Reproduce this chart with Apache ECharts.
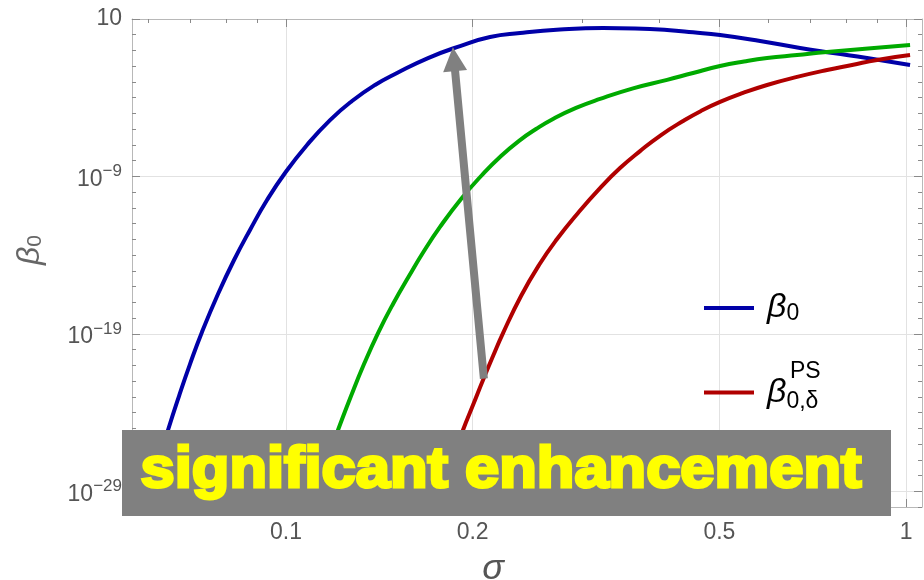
<!DOCTYPE html>
<html><head><meta charset="utf-8">
<script src="https://cdn.jsdelivr.net/npm/echarts@6/dist/echarts.min.js"></script>
<style>html,body{margin:0;padding:0;background:#fff}#c{width:924px;height:580px}</style>
</head><body><div id="c"></div>
<script>
// ---- data: sigma values and log10(beta) ----
const blueSigma = [0.05944,0.06171,0.06452,0.06721,0.07001,0.07320,0.07768,0.08245,0.08748,0.09319,0.09963,0.10811,0.11776,0.12777,0.13917,0.15101,0.16944,0.19086,0.21334,0.23847,0.27664,0.32455,0.36552,0.41170,0.45336,0.50119,0.58146,0.67459,0.76253,0.86515,1.0150];
const blueLogBeta = [-30,-27.65,-25.11,-22.95,-20.92,-18.88,-16.47,-14.31,-12.40,-10.50,-8.78,-7.00,-5.42,-4.21,-3.19,-2.43,-1.48,-0.72,-0.14,0.11,0.33,0.43,0.40,0.30,0.155,-0.02,-0.40,-0.84,-1.16,-1.48,-1.92];
const greenSigma = [0.10973,0.11473,0.12130,0.12730,0.13360,0.14073,0.14879,0.15790,0.16694,0.17716,0.19155,0.20708,0.22222,0.23847,0.25307,0.26955,0.29358,0.32096,0.36284,0.41170,0.45336,0.50119,0.54790,0.59677,0.66711,0.74577,0.86838,1.0150];
const greenLogBeta = [-30,-27.65,-25.11,-22.95,-20.92,-18.95,-17.10,-15.33,-13.74,-12.21,-10.43,-8.91,-7.70,-6.69,-5.99,-5.35,-4.65,-4.08,-3.41,-2.87,-2.43,-1.99,-1.70,-1.48,-1.29,-1.10,-0.87,-0.65];
const redSigma = [0.17521,0.18319,0.19296,0.20026,0.20785,0.21571,0.22387,0.23935,0.25589,0.27359,0.29578,0.32096,0.34569,0.37237,0.40256,0.43687,0.46706,0.50119,0.54587,0.59677,0.66711,0.74577,0.81828,0.89790,1.0150];
const redLogBeta = [-30,-27.65,-25.11,-23.52,-21.93,-20.41,-18.95,-16.60,-14.63,-12.98,-11.32,-9.74,-8.47,-7.39,-6.37,-5.48,-4.84,-4.27,-3.70,-3.19,-2.68,-2.24,-1.92,-1.60,-1.29];
const arrowFrom = [0.2085, -21.85];
const arrowTo = [0.1866, -1.55];
// ---- ticks ----
const xMajor = [0.1, 0.2, 0.5, 1];
const xMajorLabels = ['0.1', '0.2', '0.5', '1'];
const xMinor = [0.06,0.07,0.08,0.09,0.3,0.4,0.6,0.7,0.8,0.9];
const yMajorExp = [1, -9, -19, -29];
const xRange = [0.05644, 1.061];
const yRange = [-30, 1];

const L = Math.log10;
const pts = (s, b) => s.map((v, i) => [L(v), b[i]]);
const FONT = 'Liberation Sans';
const frame = {color: '#b8b8b8', width: 1};
const tickCol = '#8a8a8a';
const gridCol = '#e2e2e2';
const lineIcon = 'path://M0,0 L50,0 L50,4 L0,4 Z';

function xAxisDef(pos, ticks, len, extra) {
  return Object.assign({
    type: 'value', min: L(xRange[0]), max: L(xRange[1]), position: pos,
    axisLine: {show: false, onZero: false},
    axisTick: {show: true, inside: true, length: len, customValues: ticks.map(L), lineStyle: {color: tickCol}},
    axisLabel: {show: false},
    splitLine: {show: false}
  }, extra || {});
}
function yAxisDef(pos, len, extra) {
  return Object.assign({
    type: 'value', min: yRange[0], max: yRange[1], position: pos,
    axisLine: {show: false, onZero: false},
    axisTick: {show: true, inside: true, length: len, customValues: yMajorExp, lineStyle: {color: tickCol}},
    axisLabel: {show: false},
    splitLine: {show: false}
  }, extra || {});
}

const chart = echarts.init(document.getElementById('c'), null, {renderer: 'canvas'});
const option = {
  animation: false,
  backgroundColor: '#fff',
  grid: {left: 132, top: 19, right: 2, bottom: 73, containLabel: false, outerBoundsMode: 'none'},
  xAxis: [
    xAxisDef('bottom', xMajor, 8, {
      axisLine: {show: true, onZero: false, lineStyle: frame},
      axisLabel: {show: true, customValues: xMajor.map(L), margin: 14, color: '#555', fontSize: 23, fontFamily: FONT,
        formatter: v => { const i = xMajor.findIndex(m => Math.abs(L(m) - v) < 1e-6); return i >= 0 ? xMajorLabels[i] : ''; }},
      splitLine: {show: true, lineStyle: {color: gridCol, width: 1}},
      name: 'σ', nameLocation: 'middle', nameGap: 44,
      nameTextStyle: {fontSize: 36, fontStyle: 'italic', color: '#555', fontFamily: FONT, padding: [0, 68, 0, 0]}
    }),
    xAxisDef('bottom', xMinor, 4),
    xAxisDef('top', xMajor, 8, {axisLine: {show: true, onZero: false, lineStyle: frame}}),
    xAxisDef('top', xMinor, 4)
  ],
  yAxis: [
    yAxisDef('left', 8, {
      axisLine: {show: true, onZero: false, lineStyle: frame},
      axisLabel: {show: true, customValues: yMajorExp, margin: 10,
        formatter: v => { const e = Math.round(v); return e === 1 ? '{c|10}' : '{b|10}{sup|\u2212' + (-e) + '}'; },
        rich: {
          c: {fontSize: 23, color: '#555', fontFamily: FONT},
          b: {fontSize: 23, color: '#555', fontFamily: FONT, padding: [6, 0, 0, 0]},
          sup: {fontSize: 17, color: '#555', fontFamily: FONT, padding: [0, 0, 10, 0]}
        }},
      splitLine: {show: true, lineStyle: {color: gridCol, width: 1}},
      name: '{b|β}{s|0}', nameLocation: 'middle', nameRotate: 90, nameGap: 86,
      nameTextStyle: {padding: [0, 0, 0, 26], rich: {
        b: {fontSize: 32, fontStyle: 'italic', color: '#666', fontFamily: FONT},
        s: {fontSize: 21, color: '#666', fontFamily: FONT, padding: [10, 0, 0, 0]}
      }}
    }),
    Object.assign(yAxisDef('left', 4), {interval: 1, axisTick: {show: true, inside: true, length: 4, lineStyle: {color: tickCol}}}),
    yAxisDef('right', 8, {axisLine: {show: true, onZero: false, lineStyle: frame}}),
    Object.assign(yAxisDef('right', 4), {interval: 1, axisTick: {show: true, inside: true, length: 4, lineStyle: {color: tickCol}}})
  ],
  legend: {
    data: [{name: 'beta0', icon: lineIcon}, {name: 'beta0PS', icon: lineIcon}],
    orient: 'vertical', left: 699, top: 286,
    itemWidth: 50, itemHeight: 30, itemGap: 50, selectedMode: false,
    formatter: n => n === 'beta0' ? '{b|β}{s|0}' : '{b|β}{s2|0,δ}',
    textStyle: {padding: [0, 0, 0, 8], rich: {
      b: {fontSize: 34, fontStyle: 'italic', color: '#000', fontFamily: FONT},
      s: {fontSize: 23, color: '#000', fontFamily: FONT, padding: [12, 0, 0, 0]},
      s2: {fontSize: 23, color: '#000', fontFamily: FONT, padding: [18, 0, 0, 0]}
    }}
  },
  series: [
    {name: 'beta0', type: 'line', data: pts(blueSigma, blueLogBeta), showSymbol: false, symbol: 'none',
     smooth: 0.5, lineStyle: {color: '#0000a8', width: 4}, itemStyle: {color: '#0000a8'}},
    {name: 'green', type: 'line', data: pts(greenSigma, greenLogBeta), showSymbol: false, symbol: 'none',
     smooth: 0.5, lineStyle: {color: '#00aa00', width: 4}, itemStyle: {color: '#00aa00'}},
    {name: 'beta0PS', type: 'line', data: pts(redSigma, redLogBeta), showSymbol: false, symbol: 'none',
     smooth: 0.5, lineStyle: {color: '#b00000', width: 4}, itemStyle: {color: '#b00000'}},
    {name: 'arrow', type: 'line', data: [], silent: true,
     markLine: {silent: true, symbol: ['none', 'triangle'], symbolSize: 24, animation: false,
       label: {show: false},
       lineStyle: {color: '#808080', width: 8, type: 'solid', cap: 'butt'},
       itemStyle: {color: '#808080'},
       emphasis: {disabled: true},
       data: [[{coord: [L(arrowFrom[0]), arrowFrom[1]]}, {coord: [L(arrowTo[0]), arrowTo[1]]}]]}}
  ],
  graphic: [
    {type: 'rect', z: 100, shape: {x: 122, y: 430, width: 769, height: 86}, style: {fill: '#808080'}},
    {type: 'text', z: 101, x: 501, y: 471, scaleX: 1.06, originX: 0,
     style: {text: 'significant enhancement', fill: '#ffff00', stroke: '#ffff00', lineWidth: 3,
       font: 'bold 58px "Liberation Sans"', align: 'center', verticalAlign: 'middle'}},
    {type: 'text', z: 50, x: 790, y: 372,
     style: {text: 'PS', fill: '#000', font: '23px "Liberation Sans"', align: 'left', verticalAlign: 'middle'}}
  ]
};
chart.setOption(option);
</script>
</body></html>
